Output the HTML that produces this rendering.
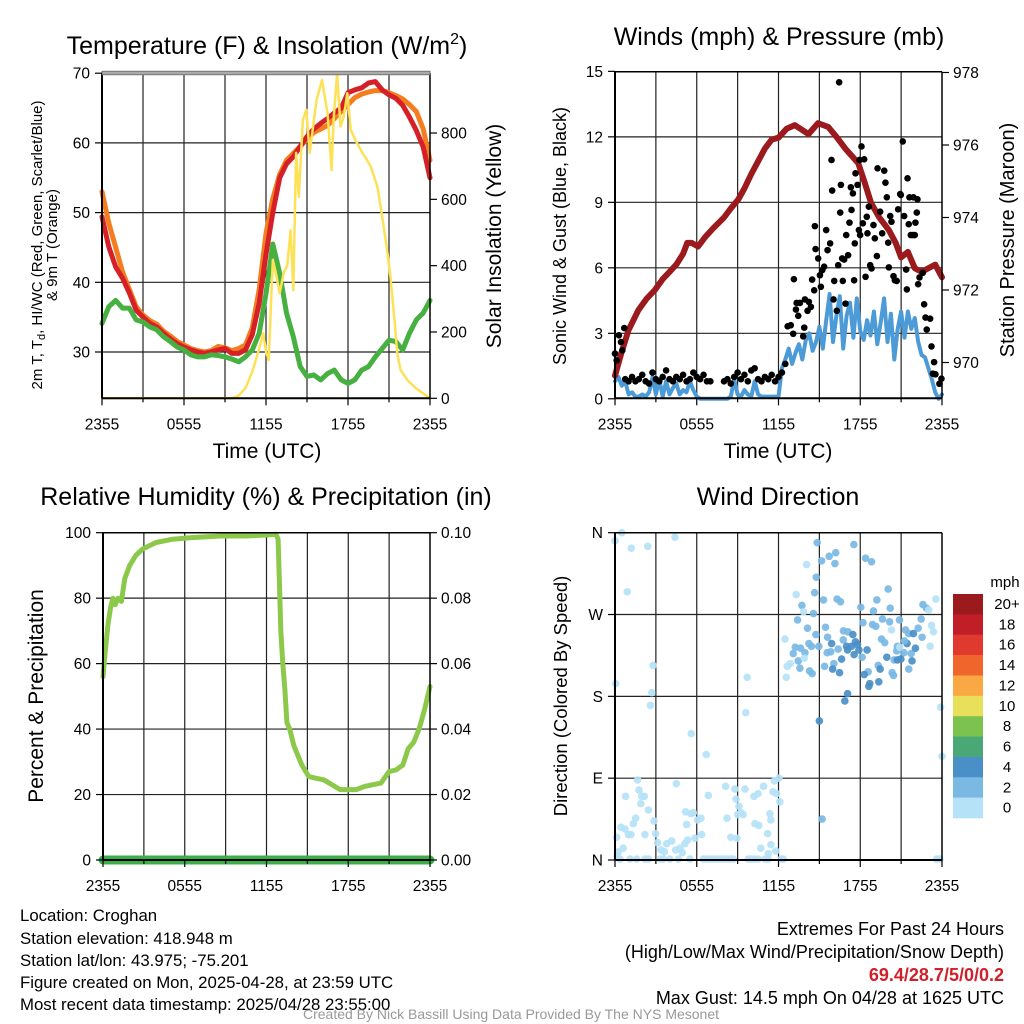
<!DOCTYPE html>
<html><head><meta charset="utf-8"><style>
html,body{margin:0;padding:0;background:#fff;}
svg{display:block;font-family:"Liberation Sans",Arial,sans-serif;}
</style></head><body>
<svg id="fig" width="1024" height="1024" viewBox="0 0 1024 1024" xmlns="http://www.w3.org/2000/svg">
<rect width="1024" height="1024" fill="#fff"/>
<g id="layer"></g>
<text x="267" y="54" font-size="25" text-anchor="middle">Temperature (F) &amp; Insolation (W/m<tspan font-size="16" dy="-10">2</tspan><tspan dy="10">)</tspan></text>
<text x="779" y="45" font-size="25" text-anchor="middle">Winds (mph) &amp; Pressure (mb)</text>
<text x="266" y="505" font-size="25" text-anchor="middle">Relative Humidity (%) &amp; Precipitation (in)</text>
<text x="778" y="505" font-size="25" text-anchor="middle">Wind Direction</text>
<text x="267" y="458" font-size="21" text-anchor="middle">Time (UTC)</text>
<text x="778" y="458" font-size="21" text-anchor="middle">Time (UTC)</text>
<text transform="translate(42,245) rotate(-90)" font-size="15" text-anchor="middle">2m T, T<tspan font-size="11" dy="3">d</tspan><tspan dy="-3">, HI/WC (Red, Green, Scarlet/Blue)</tspan><tspan x="0" dy="15">&amp; 9m T (Orange)</tspan></text>
<text transform="translate(501,236) rotate(-90)" font-size="21" text-anchor="middle">Solar Insolation (Yellow)</text>
<text transform="translate(566,236) rotate(-90)" font-size="18" text-anchor="middle">Sonic Wind &amp; Gust (Blue, Black)</text>
<text transform="translate(1014,240) rotate(-90)" font-size="20" text-anchor="middle">Station Pressure (Maroon)</text>
<text transform="translate(43,696) rotate(-90)" font-size="21" text-anchor="middle">Percent &amp; Precipitation</text>
<text transform="translate(567,696) rotate(-90)" font-size="18.5" text-anchor="middle">Direction (Colored By Speed)</text>
<g font-size="16.8">
<text x="20" y="921">Location: Croghan</text>
<text x="20" y="944">Station elevation: 418.948 m</text>
<text x="20" y="966">Station lat/lon: 43.975; -75.201</text>
<text x="20" y="988">Figure created on Mon, 2025-04-28, at 23:59 UTC</text>
<text x="20" y="1010">Most recent data timestamp: 2025/04/28 23:55:00</text>
</g>
<g font-size="18" text-anchor="end">
<text x="1004" y="935">Extremes For Past 24 Hours</text>
<text x="1004" y="958">(High/Low/Max Wind/Precipitation/Snow Depth)</text>
<text x="1004" y="981" fill="#d0202a" font-weight="bold">69.4/28.7/5/0/0.2</text>
<text x="1004" y="1004">Max Gust: 14.5 mph On 04/28 at 1625 UTC</text>
</g>
<text x="511" y="1019" font-size="14" fill="#999" text-anchor="middle">Created By Nick Bassill Using Data Provided By The NYS Mesonet</text>
</svg>
<script>
// ---------- data ----------
var xTickLabels = ["2355","0555","1155","1755","2355"];
var tempLeftTicks = [30,40,50,60,70];
var solarTicks = [0,200,400,600,800];
var windTicks = [0,3,6,9,12,15];
var pressTicks = [970,972,974,976,978];
var rhTicks = [0,20,40,60,80,100];
var precipTicks = ["0.00","0.02","0.04","0.06","0.08","0.10"];
var dirTickLabels = ["N","E","S","W","N"];
var colorbarLabels = ["0","2","4","6","8","10","12","14","16","18","20+"];

var tempRed = [49.4,45.1,42.2,40.6,38.5,36,35,34.1,33.6,32.7,31.9,31.2,30.7,30.3,30,29.8,30,30.3,30.5,29.8,29.8,30.3,32.5,37,44,50,55,57,58,59.5,60.9,62,62.8,63.5,64.3,65,67.2,67.6,67.9,68.6,68.8,67.6,66.9,66.4,65.4,63.7,61.8,59.4,55];
var tempOrange = [53,48.5,45,41.5,39,36.5,35.3,34.5,34,33,32.3,31.5,31,30.5,30.2,30,30.2,30.8,30.6,30.2,30.5,31,33.5,39,47,52,55.5,57.5,58.5,59.5,60.5,61.5,62,62.5,63.5,64.5,65.5,66.5,67,67.3,67.5,67.5,67.2,66.8,66.3,65.5,64.5,62,57.5];
var dewGreen = [34.1,36.5,37.4,36.3,36.3,34.6,34.3,33.6,33.2,32.2,31.5,30.7,30.3,29.6,29.3,29.3,29.6,29.5,29.3,29,28.6,29.3,30.3,32.7,38.4,45.5,41.3,35.6,32.2,27.9,26.5,26.7,26,26.9,27.4,26,25.5,26,27.4,27.9,29.3,30.5,31.7,31.5,30.3,32.7,34.6,35.6,37.4];
var solarT = [0,9.5,10,10.5,11,11.5,11.8,12.0,12.2,12.5,12.8,13.0,13.3,13.55,13.8,14.0,14.2,14.4,14.7,14.95,15.2,15.45,15.7,16.1,16.5,16.8,16.95,17.2,17.45,17.7,17.95,18.2,18.55,19.05,19.4,19.65,20.15,20.5,20.9,21.1,21.4,21.6,21.85,22.35,22.95,24];
var solarV = [0,0,8,31,80,150,196,140,115,417,360,317,380,400,507,326,740,608,840,870,740,820,900,960,860,688,840,980,820,850,920,810,778,740,718,700,638,548,437,367,236,137,85,55,31,0];

var pressT = [0,0.5,1,1.71,2.3,2.93,3.5,4,4.5,5,5.3,5.62,6.1,6.6,7.2,8,8.5,9.05,9.5,10,10.5,11,11.5,12,12.6,13.2,14.2,14.9,15.65,16.3,16.9,17.85,18.3,18.8,19.4,20.1,20.6,21.0,21.5,22.0,22.5,23.0,23.5,24];
var pressV = [969.64,970.3,970.9,971.44,971.75,972.0,972.3,972.5,972.7,973.0,973.3,973.3,973.2,973.45,973.7,974.0,974.25,974.5,974.8,975.2,975.55,975.9,976.15,976.2,976.45,976.55,976.3,976.6,976.5,976.2,975.9,975.5,975.0,974.4,974.0,973.65,973.3,972.9,973.05,972.6,972.5,972.6,972.7,972.35];
var windSonic = [0.8,1.0,0.6,0.8,0.2,0.3,0.1,0.1,0.2,0.1,0.3,1.0,0.2,0.9,0.1,0.8,0.2,0.5,0.7,0.2,0.4,0.3,0.8,0.4,0.1,0,0,0,0,0,0,0,0,0,0.1,0.9,0.2,0.1,0.4,0.2,0.1,0.8,0.2,0.1,0.1,0.1,0.1,0.1,0.1,1.4,1.8,2.3,1.6,2.1,2.5,1.8,2.7,3.0,2.2,2.6,3.3,2.3,3.6,4.8,2.6,3.8,4.7,2.3,3.8,4.4,2.8,4.6,3.1,2.7,3.6,2.9,4.0,2.5,3.5,4.6,2.6,3.9,1.8,3.2,4.0,2.8,4.0,3.2,3.7,2.6,2.0,1.9,1.4,0.9,0.3,0,0.2];
var gustT = [0,0.12,0.29,0.44,0.54,0.68,
 0.75,1,1.25,1.5,1.75,2,2.25,2.5,2.75,3,3.25,3.5,3.75,4,4.25,4.5,4.75,5,5.25,5.5,5.75,6,6.25,6.5,6.75,7,
 8,8.25,8.5,8.75,9,9.25,9.5,9.75,10,10.25,10.5,10.75,11,11.25,11.5,11.75,12,12.25,12.5,
 12.67,12.9,13.08,13.13,13.28,13.33,13.57,13.45,13.81,13.89,13.94,14.13,14.23,14.38,14.47,14.62,14.67,14.72,14.91,15.04,15.11,15.21,15.35,15.5,15.6,15.79,15.89,15.94,16.04,16.09,16.28,16.38,16.45,16.53,16.58,16.67,16.72,16.82,16.92,16.97,17.11,17.21,17.31,17.36,17.46,17.55,17.6,17.65,17.8,17.9,17.95,17.99,18.09,18.19,18.29,18.39,18.48,18.53,18.63,18.73,18.83,18.97,19.07,19.22,19.27,19.46,19.61,19.76,19.85,19.95,20.05,20.1,20.2,20.29,20.44,20.54,20.68,20.78,20.93,20.98,21.12,21.22,21.37,21.42,21.47,21.56,21.61,21.71,21.86,21.91,22.0,22.05,22.15,22.2,22.25,22.35,22.59,22.69,22.79,22.88,23.13,23.23,23.42,23.33,23.52,23.81,23.96];
var gustV = [2.07,1.76,2.91,2.6,2.22,3.24,
 0.9,0.8,1.0,0.8,0.9,1.1,0.8,0.7,1.2,0.9,0.8,1.0,1.3,0.9,0.8,1.0,0.9,1.1,0.8,0.9,1.2,1.0,0.9,1.1,0.8,0.8,
 0.8,0.9,0.7,1.0,1.2,0.9,1.1,0.8,1.3,1.4,0.9,0.8,1.0,0.9,1.1,0.8,1.0,1.2,1.6,
 3.32,3.37,2.98,5.48,4.09,4.39,4.39,3.8,2.86,3.26,4.55,4.03,4.44,4.21,5.46,4.97,7.91,6.86,6.43,5.66,5.13,5.89,6.05,7.73,6.81,7.12,10.94,9.54,4.55,5.4,4.03,6.12,14.5,8.53,9.8,6.43,5.4,6.38,4.36,7.5,6.58,8.07,9.69,8.65,9.41,5.43,7.12,10.33,9.8,7.73,10.94,7.5,11.56,8.04,10.97,5.59,8.34,7.58,8.8,6.12,5.97,7.96,7.35,6.54,10.56,8.57,7.58,10.45,9.9,9.23,7.15,6.02,8.37,8.11,5.62,5.43,5.4,8.68,9.38,9.34,11.79,8.37,5.92,5.01,10.1,8.0,9.23,7.5,7.5,9.23,7.5,8.07,8.53,9.14,5.25,5.56,5.77,4.33,3.72,3.17,3.67,2.4,1.68,1.15,1.12,0.69,0.92];

var rhT = [0,0.15,0.37,0.55,0.73,0.9,1.1,1.35,1.6,1.96,2.4,2.9,3.4,3.9,5.1,6.5,8.6,10.5,12.0,12.7,12.85,12.95,13.05,13.2,13.35,13.5,13.7,14.0,14.3,14.6,15.1,15.6,16.2,16.8,17.4,18.0,18.6,19.2,19.8,20.4,21.0,21.5,22.0,22.4,22.8,23.2,23.6,24];
var rhV = [56,63,72,77,80,78,80,79,86,90,93,95,96,97,98,98.5,99,99,99.3,99.5,98,85,70,60,52,42,40,35,32,29,25.5,25,24.5,23,21.5,21.5,21.5,22.5,23,23.5,27,27.5,29,34,36,40,46,53];
var precipT = [0,24];
var precipV = [0,0];

var dirT = [0,0.5,1.2,2.4,4.4,0.9,2.8,0.05,2.7,2.6,9.7,9.6,5.6,6.7,15.0,15.2,23.9,24.0,
 1.66,1.76,0.78,1.96,2.15,1.9,2.45,4.5,2.86,1.52,1.35,0.44,0.73,0.98,1.17,0.12,2.2,2.98,3.13,3.79,4.16,3.37,3.62,4.45,4.77,5.13,4.94,5.33,5.87,6.36,5.26,6.06,6.31,5.18,5.57,5.75,6.85,8.12,8.8,8.88,9.54,10.2,10.5,10.9,11.6,11.86,12.03,11.7,12.1,9.1,9.24,9.41,9.0,8.22,10.27,10.56,11.2,11.37,11.44,8.5,8.95,11.44,10.7,11.25,11.8,0.6,0.24,0.15,
 0.37,1.1,1.59,2.2,2.45,3.3,3.55,4.03,4.65,5.5,6.48,6.72,6.97,7.2,7.46,7.7,7.95,8.19,8.44,8.68,9.78,10.0,10.27,10.5,11.0,11.25,12.2,12.35,23.6,23.84,
 14.84,17.53,15.16,15.72,16.2,16.14,18.39,18.83,14.06,14.77,13.3,14.65,15.3,16.3,16.55,20.05,19.22,18.04,18.97,20.2,23.55,22.6,22.86,23.03,13.72,13.84,14.57,13.4,14.13,15.45,14.74,18.2,18.9,19.14,19.63,20.15,20.88,20.29,22.47,23.23,22.25,23.37,21.32,21.56,21.9,22.54,12.47,13.23,13.62,14.23,14.42,14.96,15.6,15.9,16.77,17.1,17.46,16.75,16.38,17.0,17.36,17.65,17.8,17.9,18.5,17.55,18.14,17.07,15.57,15.84,13.08,13.94,13.45,13.89,12.86,12.64,13.57,12.57,14.28,14.47,15.38,16.06,15.97,16.48,16.63,19.56,19.8,20.73,20.68,21.44,21.2,21.74,22.05,19.95,20.49,20.73,20.98,21.8,21.56,19.32,19.46,20.34,20.44,18.58,18.29,19.36,18.7,18.63,17.07,16.87,23.13,20.9,21.25];
var dirD = [351,360,343,345,355,295,214,194,184,170,201,162,139,116,153,45,168,114,
 88,77,70,70,70,62,55,84,43,46,40,36,34,28,28,25,28,29,19,18,21,11,9,11,13,18,8,22,24,28,39,44,46,53,51,52,71,81,78,67,78,70,73,81,75,73,90,87,64,59,52,50,50,46,40,38,29,51,44,25,24,17,13,7,10,13,9,4,
 1,1,1,1,1,1,1,1,1,1,1,1,1,1,1,1,1,1,1,1,1,1,1,1,1,1,1,1,1,1,
 349,347,329,334,338,326,332,328,325,311,292,294,286,287,284,298,286,278,274,277,287,281,277,275,280,273,271,264,255,256,248,261,259,257,265,262,264,253,265,258,255,251,253,249,249,245,243,234,233,238,235,235,245,238,252,251,248,242,232,235,235,240,237,231,231,226,223,231,228,229,227,228,219,222,216,213,211,201,208,205,213,216,210,206,221,243,239,235,230,238,228,227,233,223,220,220,221,219,210,214,210,206,203,207,204,196,194,191,183,175,235,234,241];
var dirS = [1,1,1,1,1,1,1,1,1,1,1,1,1,1,5,3,1,1,
 1,1,1,1,1,1,1,1,1,1,1,1,1,1,1,1,1,1,1,1,1,1,1,1,1,1,1,1,1,1,1,1,1,1,1,1,1,1,1,1,1,1,1,1,1,1,1,1,1,1,1,1,1,1,1,1,1,1,1,1,1,1,1,1,1,1,1,1,
 1,1,1,1,1,1,1,1,1,1,1,1,1,1,1,1,1,1,1,1,1,1,1,1,1,1,1,1,1,1,
 3,3,3,3,3,3,3,3,1,3,1,3,3,3,3,3,3,3,3,3,1,3,3,1,3,1,3,3,3,3,3,3,3,3,3,3,3,1,3,1,3,1,3,3,5,3,1,3,3,3,3,3,3,5,3,3,5,3,3,5,5,5,5,5,5,5,3,5,3,3,3,3,3,1,1,1,3,1,3,3,3,3,5,5,5,3,3,3,3,5,3,3,5,5,3,5,5,5,3,3,5,3,3,3,5,5,5,5,5,5,1,1,3];

var barColors = ["#b5e2f7","#7ab9e4","#4a8fc7","#4aa876","#7cc24e","#e8e05a","#f9a844","#f0652b","#e03a2f","#c11e28","#9a1a1e"];

// ---------- helpers ----------
var NS = "http://www.w3.org/2000/svg";
var layer = document.getElementById('layer');
function mk(tag, attrs, parent) {
  var el = document.createElementNS(NS, tag);
  for (var k in attrs) el.setAttribute(k, attrs[k]);
  (parent || layer).appendChild(el);
  return el;
}
function xScale(p, t) { return p.x0 + t / 24 * (p.x1 - p.x0); }
function path(pts) { return pts.map(function (q, i) { return (i ? 'L' : 'M') + q[0].toFixed(1) + ' ' + q[1].toFixed(1); }).join(''); }

var P1 = {x0:102, x1:430, y0:73, y1:398.3};
var P2 = {x0:615, x1:942, y0:71.7, y1:398.3};
var P3 = {x0:103, x1:430, y0:532.7, y1:860};
var P4 = {x0:615, x1:942, y0:532.7, y1:860};
function yTemp(v){ return 352 - (v - 30) * 6.97; }
function ySolar(v){ return 398.3 - v * 0.3316; }
function yWind(v){ return 398.8 - v * 21.83; }
function yPress(v){ return 362.5 - (v - 970) * 36.25; }
function yRH(v){ return 860 - v * 3.273; }
function yPrecip(v){ return 860 - v * 3273; }
function yDir(v){ return 860 - v * 0.9092; }

function drawGrid(p, name, hLines) {
  var g = mk('g', {});
  
  
  for (var i = 1; i < 8; i++) {
    var x = xScale(p, i * 3);
    var l = mk('line', {x1:x, x2:x, y1:p.y0, y2:p.y1, stroke:'#222', 'stroke-width':1.2}, g);
    
    
  }
  hLines.forEach(function (y) {
    var l = mk('line', {x1:p.x0, x2:p.x1, y1:y, y2:y, stroke:'#222', 'stroke-width':1.2}, g);
    
    
  });
}
function drawFrame(p, name, topGray) {
  var g = mk('g', {});
  
  
  mk('line', {x1:p.x0, x2:p.x0, y1:p.y0, y2:p.y1, stroke:'#000', 'stroke-width':2}, g);
  mk('line', {x1:p.x1, x2:p.x1, y1:p.y0, y2:p.y1, stroke:'#000', 'stroke-width':1.5}, g);
  mk('line', {x1:p.x0, x2:p.x1, y1:p.y1, y2:p.y1, stroke:'#000', 'stroke-width':2}, g);
  if (topGray) {
    mk('rect', {x:p.x0, y:p.y0 - 1.8, width:p.x1 - p.x0, height:3.6, fill:'#aaa', stroke:'#666', 'stroke-width':0.8}, g);
  } else {
    mk('line', {x1:p.x0, x2:p.x1, y1:p.y0, y2:p.y0, stroke:'#000', 'stroke-width':1.5}, g);
  }
  for (var i = 0; i <= 8; i++) {
    var x = xScale(p, i * 3);
    mk('line', {x1:x, x2:x, y1:p.y1, y2:p.y1 + (i % 2 ? 4 : 7), stroke:'#000', 'stroke-width':1.2}, g);
  }
  xTickLabels.forEach(function (lab, i) {
    var t = mk('text', {x:xScale(p, i * 6), y:p.y1 + 31, 'font-size':15.5, 'text-anchor':'middle'}, g);
    t.textContent = lab;
    
    
  });
}
function yTicks(p, vals, labels, yf, side, name) {
  var g = mk('g', {});
  
  
  vals.forEach(function (v, i) {
    var y = yf(v);
    var x = side === 'left' ? p.x0 : p.x1;
    var d = side === 'left' ? -7 : 7;
    mk('line', {x1:x, x2:x + d, y1:y, y2:y, stroke:'#000', 'stroke-width':1.2}, g);
    var t = mk('text', {x: side === 'left' ? x - 12 : x + 11, y: y + 5.5, 'font-size':15.5, 'text-anchor': side === 'left' ? 'end' : 'start'}, g);
    t.textContent = labels[i];
    
    
  });
}
function line(pts, color, w, name) {
  var el = mk('path', {d:path(pts), fill:'none', stroke:color, 'stroke-width':w, 'stroke-linejoin':'round', 'stroke-linecap':'round'});
  
  
  return el;
}
function halfHour(arr, p, yf) { return arr.map(function (v, i) { return [xScale(p, i * 0.5), yf(v)]; }); }
function pairs(ts, vs, p, yf) { return ts.map(function (t, i) { return [xScale(p, t), yf(vs[i])]; }); }

// ---------- panel 1 ----------
drawGrid(P1, 'temperature', [yTemp(30), yTemp(40), yTemp(50), yTemp(60)]);
line(halfHour(tempOrange, P1, yTemp), '#f47d20', 5, 'nine-meter-temp-line');
line(halfHour(tempRed, P1, yTemp), '#d62027', 5, 'two-meter-temp-line');
line(halfHour(dewGreen, P1, yTemp), '#46b041', 5, 'dewpoint-line');
line(pairs(solarT, solarV, P1, ySolar), '#fde156', 2.5, 'solar-insolation-line');
drawFrame(P1, 'temperature', true);
yTicks(P1, tempLeftTicks, tempLeftTicks.map(String), yTemp, 'left', 'temperature-y-ticks');
yTicks(P1, solarTicks, solarTicks.map(String), ySolar, 'right', 'solar-y-ticks');

// ---------- panel 2 ----------
drawGrid(P2, 'winds', [yWind(3), yWind(6), yWind(9), yWind(12)]);
line(windSonic.map(function (v, i) { return [xScale(P2, i * 0.25), yWind(v)]; }), '#4d9bd6', 4, 'sonic-wind-line');
line(pairs(pressT, pressV, P2, yPress), '#9b1a1d', 6, 'pressure-line');
var gg = mk('g', {});


gustT.forEach(function (t, i) {
  var c = mk('circle', {cx:xScale(P2, t), cy:yWind(gustV[i]), r:3.3, fill:'#000'}, gg);
  
  
});
drawFrame(P2, 'winds', false);
yTicks(P2, windTicks, windTicks.map(String), yWind, 'left', 'wind-y-ticks');
yTicks(P2, pressTicks, pressTicks.map(String), yPress, 'right', 'pressure-y-ticks');

// ---------- panel 3 ----------
drawGrid(P3, 'humidity', [yRH(20), yRH(40), yRH(60), yRH(80), yRH(100)]);
line(pairs(rhT, rhV, P3, yRH), '#8cc94b', 5, 'relative-humidity-line');
line(pairs(precipT, precipV, P3, yPrecip), '#3cae49', 9, 'precipitation-line');
drawFrame(P3, 'humidity', false);
yTicks(P3, rhTicks, rhTicks.map(String), yRH, 'left', 'humidity-y-ticks');
yTicks(P3, precipTicks.map(Number), precipTicks, yPrecip, 'right', 'precip-y-ticks');

// ---------- panel 4 ----------
drawGrid(P4, 'direction', [yDir(90), yDir(180), yDir(270)]);
var dg = mk('g', {});


function speedColor(s) { return barColors[Math.min(10, Math.floor(s / 2))]; }
dirT.forEach(function (t, i) {
  var c = mk('circle', {cx:xScale(P4, t), cy:yDir(dirD[i]), r:3.8, fill:speedColor(dirS[i]), 'fill-opacity':0.92}, dg);
  
  
});
drawFrame(P4, 'direction', false);
yTicks(P4, [0,90,180,270,360], dirTickLabels, yDir, 'left', 'direction-y-ticks');

// colorbar
var cb = mk('g', {});


var cbTop = 594, cbH = 224 / 11;
var ct = mk('text', {x:1005, y:587, 'font-size':15, 'text-anchor':'middle'}, cb);
ct.textContent = 'mph';


colorbarLabels.forEach(function (lab, i) {
  var k = 10 - i;
  var r = mk('rect', {x:953, y:cbTop + i * cbH, width:30, height:cbH + 0.3, fill:barColors[k]}, cb);
  
  
  var t = mk('text', {x:1007, y:cbTop + i * cbH + 15, 'font-size':15, 'text-anchor':'middle'}, cb);
  t.textContent = colorbarLabels[k];
  
  
});
</script>
</body></html>
